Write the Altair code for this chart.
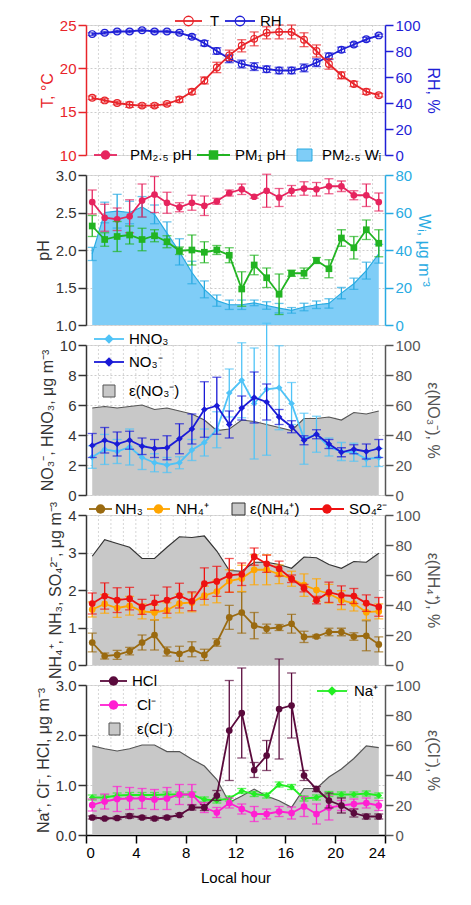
import altair as alt
import pandas as pd

hours = [h + 0.5 for h in range(24)]

T = [16.6,16.3,16.0,15.8,15.7,15.7,15.9,16.4,17.3,18.6,20.1,21.5,22.6,23.4,24.1,24.2,24.2,23.3,22.0,20.5,19.2,18.2,17.3,16.9]
T_err = [0.2,0.2,0.2,0.3,0.2,0.2,0.2,0.3,0.3,0.4,0.6,0.6,0.7,0.8,0.7,0.8,0.8,0.8,0.7,0.6,0.4,0.3,0.3,0.2]
RH = [93,94,95,95,96,95,95,94,91,86,80,74,70,68,66,65,65,67,71,76,81,85,89,92]
RH_err = [1,1,1,1,1,1,1,1,1.5,2,2.5,3,3,3,2.5,2.5,2.5,3,3,2.5,2,1.5,1.5,1]

pH25 = [2.64,2.43,2.41,2.45,2.66,2.74,2.63,2.57,2.63,2.59,2.65,2.76,2.81,2.71,2.79,2.70,2.79,2.82,2.81,2.85,2.85,2.73,2.73,2.64]
pH25_err = [0.16,0.18,0.15,0.22,0.22,0.24,0.14,0.06,0.1,0.13,0.04,0.04,0.07,0.02,0.22,0.12,0.07,0.09,0.09,0.1,0.07,0.06,0.15,0.12]
pH1 = [2.32,2.14,2.18,2.20,2.14,2.19,2.11,1.99,2.0,1.97,2.0,1.93,1.48,1.80,1.63,1.41,1.69,1.69,1.86,1.75,2.16,2.03,2.27,2.09]
pH1_err = [0.14,0.09,0.2,0.12,0.15,0.08,0.08,0.05,0.2,0.14,0.06,0.1,0.23,0.13,0.13,0.27,0.04,0.07,0.04,0.12,0.11,0.15,0.13,0.18]
Wi = [37.9,60,60.7,60,63,59,49,39,28,19,13,10.8,10.8,11.8,10.4,9,7.8,9.6,10.8,11.5,17,22,29,38]
Wi_err = [3.5,5.5,9,6,5.5,5,6,7,6,4.5,3,2.5,2.5,1.5,2,2.5,1.5,2,2,2.5,3,3,4.5,5]

HNO3 = [2.53,3.04,2.9,3.2,2.5,2.15,2.0,2.15,3.0,3.5,4.35,6.8,7.65,6.1,7.05,7.15,6.1,3.75,4.05,3.2,2.9,2.85,2.4,2.5]
HNO3_err = [0.75,1.0,0.8,1.2,0.8,0.6,0.5,0.4,0.7,0.9,1.2,1.6,2.5,3.7,4.4,2.8,1.4,1.7,1.2,0.6,0.6,0.6,0.5,0.6]
NO3 = [3.3,3.65,3.4,3.65,3.25,3.1,3.15,3.75,4.4,5.7,5.95,4.7,5.8,6.5,6.2,5.2,4.55,3.65,4.05,3.4,2.85,3.05,2.9,3.1]
NO3_err = [0.8,0.85,0.8,0.6,0.55,0.6,0.8,1.0,1.0,1.85,1.9,0.9,0.8,1.7,1.2,0.5,0.4,0.3,0.3,0.3,0.3,0.3,0.5,0.6]
eNO3 = [58,59,58,59,60,57,58,56,54,50,43,44,50,49,47,45,43,51,51,52,50,55,54,56]

SO4 = [1.64,1.84,1.73,1.77,1.55,1.66,1.73,1.85,1.70,2.17,2.23,2.39,2.42,2.89,2.70,2.57,2.3,2.05,1.73,1.94,1.86,1.84,1.65,1.55]
SO4_err = [0.28,0.35,0.33,0.3,0.2,0.2,0.35,0.33,0.25,0.42,0.4,0.45,0.3,0.23,0.23,0.2,0.1,0.1,0.1,0.27,0.25,0.2,0.22,0.25]
NH4 = [1.48,1.63,1.52,1.58,1.43,1.4,1.46,1.64,1.67,1.85,1.96,2.24,2.31,2.54,2.54,2.42,2.3,2.13,2.0,1.9,1.73,1.64,1.41,1.43]
NH4_err = [0.2,0.25,0.25,0.25,0.2,0.2,0.2,0.25,0.25,0.25,0.3,0.3,0.35,0.4,0.4,0.25,0.2,0.3,0.3,0.25,0.25,0.2,0.2,0.2]
NH3 = [0.6,0.24,0.27,0.37,0.6,0.8,0.36,0.3,0.42,0.27,0.6,1.27,1.4,1.05,0.97,1.0,1.1,0.75,0.76,0.88,0.88,0.76,0.78,0.55]
NH3_err = [0.25,0.08,0.12,0.1,0.2,0.4,0.12,0.2,0.2,0.15,0.1,0.32,0.55,0.35,0.12,0.08,0.25,0.15,0.04,0.1,0.1,0.1,0.4,0.2]
eNH4 = [72.5,83.5,81,78.5,71,71,78.5,85.5,85,86,76,63,62.5,68.5,68.5,67,64.5,72,71.5,67,64.5,69,68.5,74.5]

HCl = [0.35,0.33,0.34,0.38,0.35,0.33,0.35,0.4,0.55,0.55,0.79,2.09,2.44,1.3,1.59,2.52,2.59,1.19,0.92,0.69,0.59,0.44,0.37,0.37]
HCl_err = [0.03,0.02,0.03,0.04,0.03,0.03,0.03,0.03,0.05,0.06,0.1,1.0,0.9,0.15,0.3,1.0,0.65,0.1,0.05,0.15,0.15,0.08,0.05,0.05]
Cl = [0.6,0.67,0.72,0.73,0.73,0.71,0.73,0.81,0.81,0.55,0.45,0.64,0.52,0.42,0.42,0.47,0.44,0.57,0.42,0.55,0.59,0.62,0.64,0.59]
Cl_err = [0.12,0.15,0.25,0.22,0.2,0.2,0.22,0.2,0.2,0.1,0.1,0.1,0.1,0.15,0.1,0.1,0.12,0.2,0.2,0.25,0.1,0.1,0.1,0.1]
Na = [0.75,0.75,0.79,0.8,0.8,0.8,0.81,0.81,0.81,0.71,0.69,0.73,0.88,0.82,0.79,1.01,0.96,0.73,0.75,0.82,0.81,0.81,0.83,0.79]
Na_err = [0.05] * 24
eCl = [59.4,57.5,56,57.5,60,60,55.6,55.6,50.5,46,37,21.7,26,30.6,26,22.8,18.4,31,31,38.6,44,51,59.4,58.3]

FONT = "Liberation Sans"
W = 299
GRAY = "#555555"


def frame(vals, errs):
    return pd.DataFrame({"hour": hours, "val": vals,
                         "lo": [v - e for v, e in zip(vals, errs)],
                         "hi": [v + e for v, e in zip(vals, errs)]})


XAX = alt.Axis(values=list(range(0, 25, 4)), title="Local hour", grid=False,
               labelFontSize=15, titleFontSize=15, titleFontWeight="normal",
               tickSize=8, domainColor="black", tickColor="black", labelColor="black",
               domainWidth=1.5, tickWidth=1.5, titlePadding=10)


def xenc(show=False, field="hour"):
    return alt.X(f"{field}:Q", scale=alt.Scale(domain=[0, 24], nice=False),
                 axis=XAX if show else None, title="Local hour")


def grid_layer(show=False):
    df = pd.DataFrame({"g": list(range(1, 24))})
    return alt.Chart(df).mark_rule(color="#cccccc", strokeDash=[2, 2], strokeWidth=0.8).encode(
        x=xenc(show, "g"))


def left_axis(title, color, tickcount, fmt=None):
    kw = dict(title=title, titleColor=color, labelColor=color, domainColor=color,
              tickColor=color, labelFontSize=15, titleFontSize=16, titleFontWeight="normal",
              tickSize=8, domainWidth=1.5, tickWidth=1.5, grid=True, gridColor="#cccccc",
              gridDash=[2, 2], tickCount=tickcount, orient="left")
    if fmt:
        kw["format"] = fmt
    return alt.Axis(**kw)


def right_axis(title, color, tickcount=5):
    return alt.Axis(orient="right", title=title, titleColor=color, labelColor=color, domainColor=color,
                    tickColor=color, labelFontSize=15, titleFontSize=16, titleFontWeight="normal",
                    tickSize=8, domainWidth=1.5, tickWidth=1.5, grid=False, tickCount=tickcount)


def series(vals, errs, color, shape, ydom, title, axis, filled=True, show_x=False):
    df = frame(vals, errs)
    ysc = alt.Scale(domain=ydom, nice=False)
    base = alt.Chart(df)
    eb = base.mark_errorbar(ticks={"size": 9, "thickness": 1.3}, thickness=1.3, color=color).encode(
        x=xenc(show_x), y=alt.Y("lo:Q", scale=ysc, axis=axis, title=title), y2="hi:Q")
    ln = base.mark_line(strokeWidth=1.8, color=color).encode(
        x=xenc(show_x), y=alt.Y("val:Q", scale=ysc, axis=axis, title=title))
    pt = base.mark_point(filled=filled, size=45, opacity=1, strokeWidth=1.2, color=color, shape=shape).encode(
        x=xenc(show_x), y=alt.Y("val:Q", scale=ysc, axis=axis, title=title))
    return [eb, ln, pt]


def area_layer(vals, ydom, title, color, fill, line, show_x=False):
    df = pd.DataFrame({"hour": hours, "v": vals})
    return alt.Chart(df).mark_area(color=fill, line={"color": line, "strokeWidth": 1.2}, opacity=1).encode(
        x=xenc(show_x), y=alt.Y("v:Q", scale=alt.Scale(domain=ydom, nice=False), axis=right_axis(title, color), title=title))


def legend(items):
    layers = []
    for it in items:
        kind, x0, x1, y, label, color, tx = it[:7]
        shape = it[7] if len(it) > 7 else "circle"
        filled = it[8] if len(it) > 8 else True
        d = alt.Chart(pd.DataFrame({"a": [0]}))
        if kind == "line":
            layers.append(d.mark_rule(color=color, strokeWidth=1.8).encode(x=alt.value(x0), x2=alt.value(x1), y=alt.value(y)))
            layers.append(d.mark_point(color=color, shape=shape, filled=filled, size=90, opacity=1, strokeWidth=1.3).encode(
                x=alt.value((x0 + x1) / 2), y=alt.value(y)))
        else:
            c, stroke = color
            layers.append(d.mark_rect(color=c, stroke=stroke, strokeWidth=1).encode(
                x=alt.value(x0), x2=alt.value(x1), y=alt.value(y - 6), y2=alt.value(y + 6)))
        layers.append(d.mark_text(text=label, align="left", baseline="middle", fontSize=15, font=FONT, color="black").encode(
            x=alt.value(tx), y=alt.value(y)))
    return layers


def panel(right, left, leg, h, show_x=False):
    return alt.layer(grid_layer(show_x),
                     alt.layer(right, left, alt.layer(*leg)).resolve_scale(y="independent")
                     ).properties(width=W, height=h)


# Panel 1
a1 = left_axis("T, °C", "#e8242a", 3)
p1_left = alt.layer(*series(T, T_err, "#e8242a", "circle", [10, 25], "T, °C", a1, filled=False))
a1r = right_axis("RH, %", "#1f1fd6")
p1_right = alt.layer(*series(RH, RH_err, "#1f1fd6", "circle", [0, 100], "RH, %", a1r, filled=False))
leg1 = legend([
    ("line", 89, 116, -4, "T", "#e8242a", 124, "circle", False),
    ("line", 139, 169, -4, "RH", "#1f1fd6", 174, "circle", False),
])
p1 = panel(p1_right, p1_left, leg1, 130)

# Panel 2
a2 = left_axis("pH", "#333333", 4, ".1f")
p2_left = alt.layer(
    *series(pH25, pH25_err, "#e6245e", "circle", [1, 3], "pH", a2),
    *series(pH1, pH1_err, "#22b422", "square", [1, 3], "pH", a2))
t2 = "Wᵢ, μg m⁻³"
wi_eb = alt.Chart(frame(Wi, Wi_err)).mark_errorbar(ticks={"size": 9, "thickness": 1.3}, thickness=1.3, color="#29abe2").encode(
    x=xenc(), y=alt.Y("lo:Q", scale=alt.Scale(domain=[0, 80], nice=False), axis=right_axis(t2, "#29abe2"), title=t2), y2="hi:Q")
p2_right = alt.layer(area_layer(Wi, [0, 80], t2, "#29abe2", "#7fcdf7", "#29abe2"), wi_eb)
leg2 = legend([
    ("line", 8, 31, -20, "PM₂.₅ pH", "#e6245e", 44, "circle"),
    ("line", 111, 144, -20, "PM₁ pH", "#22b422", 149, "square"),
    ("box", 211, 226, -20, "PM₂.₅ Wᵢ", ("#7fcdf7", "#29abe2"), 236),
])
p2 = panel(p2_right, p2_left, leg2, 150)

# Panel 3
t3 = "NO₃⁻, HNO₃, μg m⁻³"
a3 = left_axis(t3, "#333333", 6)
p3_left = alt.layer(
    *series(HNO3, HNO3_err, "#4fc3f7", "diamond", [0, 10], t3, a3),
    *series(NO3, NO3_err, "#1a1ad6", "diamond", [0, 10], t3, a3))
p3_right = area_layer(eNO3, [0, 100], "ε(NO₃⁻), %", GRAY, "#c8c8c8", "#555555")
leg3 = legend([
    ("line", 8, 38, -6, "HNO₃", "#4fc3f7", 43, "diamond"),
    ("line", 8, 38, 17, "NO₃⁻", "#1a1ad6", 43, "diamond"),
    ("box", 17, 29, 46, "ε(NO₃⁻)", ("#c8c8c8", "#555555"), 43),
])
p3 = panel(p3_right, p3_left, leg3, 150)

# Panel 4
t4 = "NH₄⁺, NH₃, SO₄²⁻, μg m⁻³"
a4 = left_axis(t4, "#333333", 5)
p4_left = alt.layer(
    *series(NH3, NH3_err, "#9a6a10", "circle", [0, 4], t4, a4),
    *series(NH4, NH4_err, "#ffa500", "circle", [0, 4], t4, a4),
    *series(SO4, SO4_err, "#ee1111", "circle", [0, 4], t4, a4))
p4_right = area_layer(eNH4, [0, 100], "ε(NH₄⁺), %", GRAY, "#c8c8c8", "#333333")
leg4 = legend([
    ("line", 3, 26, -6, "NH₃", "#9a6a10", 29),
    ("line", 61, 84, -6, "NH₄⁺", "#ffa500", 90),
    ("box", 146, 159, -6, "ε(NH₄⁺)", ("#c8c8c8", "#333333"), 164),
    ("line", 224, 258, -6, "SO₄²⁻", "#ee1111", 263),
])
p4 = panel(p4_right, p4_left, leg4, 150)

# Panel 5
t5 = "Na⁺, Cl⁻, HCl, μg m⁻³"
a5 = left_axis(t5, "#333333", 4, ".1f")
p5_left = alt.layer(
    *series(Na, Na_err, "#22ee22", "diamond", [0, 3], t5, a5, show_x=True),
    *series(Cl, Cl_err, "#ff1fd2", "circle", [0, 3], t5, a5, show_x=True),
    *series(HCl, HCl_err, "#5a0a3c", "circle", [0, 3], t5, a5, show_x=True))
p5_right = area_layer(eCl, [0, 100], "ε(Cl⁻), %", GRAY, "#c8c8c8", "#555555", show_x=True)
leg5 = legend([
    ("line", 14, 41, -4, "HCl", "#5a0a3c", 46),
    ("line", 14, 41, 20, "Cl⁻", "#ff1fd2", 51),
    ("box", 23, 34, 44, "ε(Cl⁻)", ("#c8c8c8", "#555555"), 51),
    ("line", 231, 261, 6, "Na⁺", "#22ee22", 268, "diamond"),
])
p5 = panel(p5_right, p5_left, leg5, 150, show_x=True)

chart = alt.vconcat(p1, p2, p3, p4, p5, spacing=20, bounds="flush").properties(
    padding={"left": 26, "top": 5, "right": 5, "bottom": 5}).configure_view(stroke=None).configure(
    font=FONT).configure_axis(labelFont=FONT, titleFont=FONT)
chart.save("out.html", embed_options={"renderer": "svg", "actions": False})
